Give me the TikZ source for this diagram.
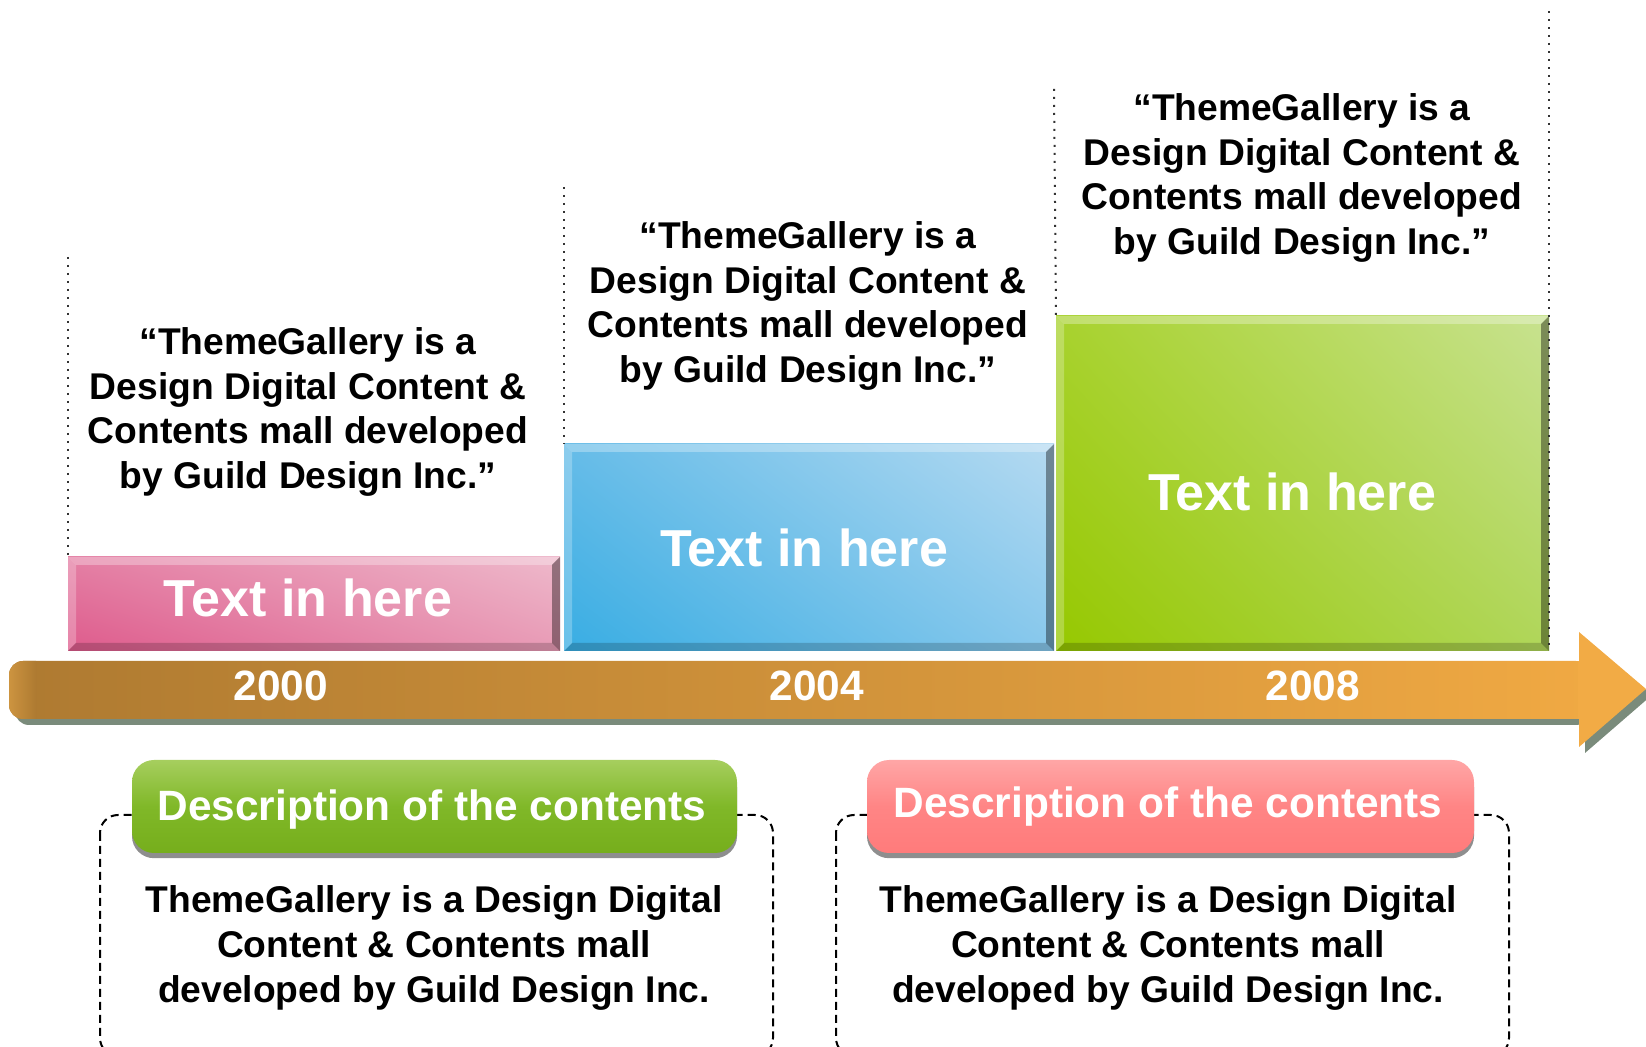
\documentclass[tikz,border=0pt]{standalone}
\usepackage{fontspec}
\setmainfont{Liberation Sans}
\usetikzlibrary{calc,shadows,shadings}
\definecolor{pinkLL}{HTML}{DE5B8C}
\definecolor{pinkUR}{HTML}{EEB9CB}
\definecolor{pinkUL}{HTML}{E47FA4}
\definecolor{pinkLR}{HTML}{E89BB6}
\definecolor{blueLL}{HTML}{38ADE3}
\definecolor{blueUR}{HTML}{B5DAF1}
\definecolor{blueUL}{HTML}{66BCE8}
\definecolor{blueLR}{HTML}{88C8EC}
\definecolor{greenLL}{HTML}{96C800}
\definecolor{greenUR}{HTML}{C8E290}
\definecolor{greenUL}{HTML}{A8D22E}
\definecolor{greenLR}{HTML}{B0D65A}
\definecolor{arrowL}{HTML}{AE7A31}
\definecolor{arrowR}{HTML}{F0A943}
\definecolor{arrowHead}{HTML}{F2AB45}
\definecolor{capL}{HTML}{CC9440}
\definecolor{shadowcol}{HTML}{7A8B7B}
\definecolor{btnshadow}{HTML}{8E8E8E}
\definecolor{gTop}{HTML}{A6CE5E}
\definecolor{gMid}{HTML}{80B828}
\definecolor{gBot}{HTML}{76AE1C}
\definecolor{rTop}{HTML}{FFA6A6}
\definecolor{rMid}{HTML}{FF8585}
\definecolor{rBot}{HTML}{FF7B7B}
\newcommand\bevelize[1]{%
  \fill[white,opacity=.30] (#1.north west) -- (#1.north east) -- ($(#1.north east)+(-8,8)$) -- ($(#1.north west)+(8,8)$) -- cycle;
  \fill[white,opacity=.25] (#1.north west) -- ($(#1.north west)+(8,8)$) -- ($(#1.south west)+(8,-8)$) -- (#1.south west) -- cycle;
  \fill[black,opacity=.38] (#1.north east) -- ($(#1.north east)+(-8,8)$) -- ($(#1.south east)+(-8,-8)$) -- (#1.south east) -- cycle;
  \fill[black,opacity=.18] (#1.south west) -- ($(#1.south west)+(8,-8)$) -- ($(#1.south east)+(-8,-8)$) -- (#1.south east) -- cycle;
}
\tikzset{
  tbox/.style={rectangle, inner sep=0pt, outer sep=0pt},
  quote/.style={align=center, font=\fontsize{18.6pt}{22.3pt}\selectfont\bfseries, text=black, inner sep=0pt},
  boxlabel/.style={font=\fontsize{26pt}{30pt}\selectfont\bfseries, text=white, inner sep=0pt},
  year/.style={font=\fontsize{21.2pt}{25pt}\selectfont\bfseries, text=white, inner sep=0pt},
  desc/.style={font=\fontsize{21.2pt}{25pt}\selectfont\bfseries, text=white, inner sep=0pt},
  btn/.style={rectangle, rounded corners=11pt, inner sep=0pt, minimum height=46.5pt,
    drop shadow={shadow xshift=0pt, shadow yshift=-2.6pt, fill=btnshadow, opacity=1}},
  guide/.style={draw=black!80, line width=1pt, dash pattern=on 1pt off 3pt},
  frame/.style={draw=black, line width=1pt, dash pattern=on 4pt off 2.5pt, rounded corners=9pt},
}
\begin{document}
\begin{tikzpicture}[x=0.5pt,y=-0.5pt]
\path[use as bounding box, clip] (0,0) rectangle (1646,1047);

% guide tops
\coordinate (g1) at (68,257);
\coordinate (g2) at (564,187);
\coordinate (g3) at (1054,89);
\coordinate (g4) at (1549,11);

% boxes
\node[tbox, minimum width=246pt, minimum height=47pt,
  lower left=pinkLL, upper right=pinkUR, upper left=pinkUL, lower right=pinkLR] (pinkbox) at (314,604) {};
\node[tbox, minimum width=245pt, minimum height=103.5pt,
  lower left=blueLL, upper right=blueUR, upper left=blueUL, lower right=blueLR] (bluebox) at (809,547.5) {};
\node[tbox, minimum width=246.5pt, minimum height=167.5pt,
  lower left=greenLL, upper right=greenUR, upper left=greenUL, lower right=greenLR] (greenbox) at (1302.5,483.5) {};
\bevelize{pinkbox}
\bevelize{bluebox}
\bevelize{greenbox}

% dotted guides
\draw[guide] (g1) -- (pinkbox.north west);
\draw[guide] (g2) -- (bluebox.north west);
\draw[guide] (g3) -- (greenbox.north west);
\draw[guide] (g4) -- (greenbox.south east);

\node[boxlabel] (pinklabel) at (308,598) {Text in here};
\node[boxlabel] (bluelabel) at (804,548) {Text in here};
\node[boxlabel] (greenlabel) at (1292,492) {Text in here};

% quotes
\node[quote] (q1) at (308,412) {“ThemeGallery is a\\Design Digital Content \&\\Contents mall developed\\by Guild Design Inc.”};
\node[quote] (q2) at (808,306) {“ThemeGallery is a\\Design Digital Content \&\\Contents mall developed\\by Guild Design Inc.”};
\node[quote] (q3) at (1302,178) {“ThemeGallery is a\\Design Digital Content \&\\Contents mall developed\\by Guild Design Inc.”};

% arrow shadow
\fill[shadowcol, rounded corners=7pt] (15,667) rectangle (1590,725);
\fill[shadowcol] (1585,638) -- (1652,695) -- (1585,753) -- cycle;
% arrow body
\path[left color=arrowL, right color=arrowR, rounded corners=7pt] (9,661) rectangle (1590,719);
\begin{scope}
  \clip[rounded corners=7pt] (9,661) rectangle (1590,719);
  \path[left color=capL, right color=arrowL] (9,661) rectangle (36,719);
\end{scope}
\fill[arrowHead] (1579,632) -- (1646,689) -- (1579,747) -- cycle;
\fill[arrowHead] (1578,661) rectangle (1582,719);

\node[year] (y1) at (281,686) {2000};
\node[year] (y2) at (817,686) {2004};
\node[year] (y3) at (1313,686) {2008};

% dashed frames
\draw[frame] (100,815) rectangle (773,1056);
\draw[frame] (836,815) rectangle (1509,1056);

% buttons
\node[btn, minimum width=302.5pt, top color=gTop, bottom color=gBot, middle color=gMid] (b1) at (434.5,806.5) {};
\node[btn, minimum width=303.5pt, top color=rTop, bottom color=rBot, middle color=rMid] (b2) at (1170.5,806.5) {};
\node[desc] (d1) at (432,810) {Description of the contents};
\node[desc] (d2) at (1168,807) {Description of the contents};

% body texts
\node[quote] (t1) at (434,948) {ThemeGallery is a Design Digital\\Content \& Contents mall\\developed by Guild Design Inc.};
\node[quote] (t2) at (1168,948) {ThemeGallery is a Design Digital\\Content \& Contents mall\\developed by Guild Design Inc.};
\end{tikzpicture}
\end{document}
